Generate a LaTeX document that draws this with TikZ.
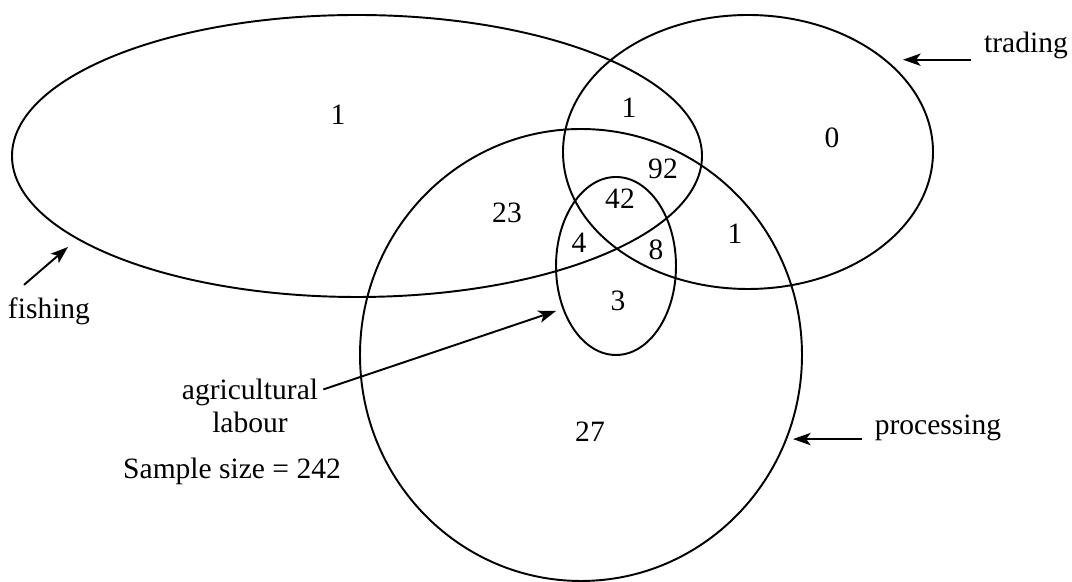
\documentclass[tikz,border=0pt]{standalone}
\usepackage{fontspec}
\setmainfont{Liberation Serif}
\usetikzlibrary{arrows.meta}

\begin{document}
\begin{tikzpicture}[
  venn/.style={draw,line width=1.1pt},
  num/.style={font=\fontsize{16.8}{19}\selectfont,inner sep=0pt},
  lbl/.style={font=\fontsize{16.8}{19}\selectfont,inner xsep=0.26cm,inner ysep=0pt,anchor=base},
  arr/.style={-{Stealth[length=10pt,width=7pt,inset=2.5pt]},line width=1.1pt},
]
  \useasboundingbox (0,0) rectangle (21.44,11.64);

  % Sets
  \draw[venn] (7.14,8.52)  ellipse [x radius=6.9,  y radius=2.82]; % fishing
  \draw[venn] (14.96,8.6)  ellipse [x radius=3.7,  y radius=2.74]; % trading
  \draw[venn] (11.62,4.54) ellipse [x radius=4.42, y radius=4.52]; % processing
  \draw[venn] (12.32,6.32) ellipse [x radius=1.2,  y radius=1.78]; % agricultural labour

  % Counts
  \node[num] (c-f)    at (6.76,9.34)  {1};
  \node[num] (c-ft)   at (12.58,9.48) {1};
  \node[num] (c-t)    at (16.64,8.88) {0};
  \node[num] (c-ftp)  at (13.26,8.26) {92};
  \node[num] (c-ftpa) at (12.4,7.66)  {42};
  \node[num] (c-fp)   at (10.14,7.38) {23};
  \node[num] (c-fpa)  at (11.58,6.78) {4};
  \node[num] (c-tpa)  at (13.12,6.64) {8};
  \node[num] (c-tp)   at (14.7,6.96)  {1};
  \node[num] (c-pa)   at (12.36,5.62) {3};
  \node[num] (c-p)    at (11.8,3.0)   {27};

  % Labels
  \node[lbl] (trad) at (20.52,10.58) {trading};
  \node[lbl] (fish) at (0.98,5.26)   {fishing};
  \node[lbl] (proc) at (18.76,2.94)  {processing};
  \node[lbl,inner xsep=0.1cm] (agri-a) at (5.0,3.64) {agricultural};
  \node[lbl] (agri-b) at (5.0,2.98)  {labour};
  \node[lbl] (size) at (4.64,2.06)   {Sample size = 242};

  % Arrow tips
  \coordinate (trad-pt) at (18.06,10.48);
  \coordinate (fish-pt) at (1.36,6.7);
  \coordinate (proc-pt) at (15.86,2.86);
  \coordinate (agri-pt) at (11.12,5.42);

  % Arrows
  \draw[arr] (trad.south west) -- (trad.south west -| trad-pt);
  \draw[arr] ([xshift=-0.5cm,yshift=0.26cm]fish.north) -- (fish-pt);
  \draw[arr] ([yshift=1.5pt]proc.south west) -- ([yshift=1.5pt]proc.south west -| proc-pt);
  \draw[arr] ([yshift=2pt]agri-a.east) -- (agri-pt);
\end{tikzpicture}
\end{document}
